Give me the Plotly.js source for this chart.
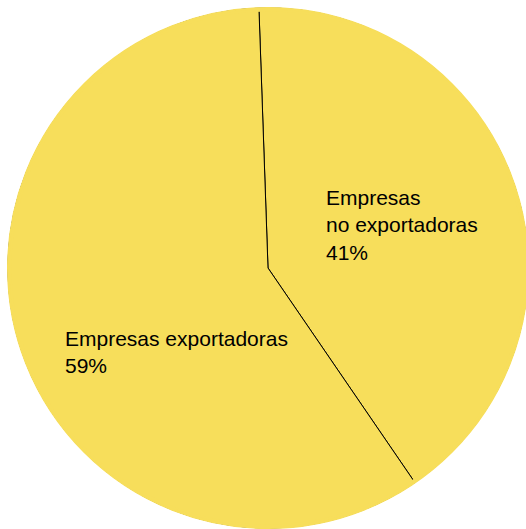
<!DOCTYPE html>
<html>
<head>
<meta charset="utf-8">
<script src="https://cdn.plot.ly/plotly-3.0.1.min.js"></script>
<style>
html,body{margin:0;padding:0;overflow:hidden;background:#fff;}
#chart{width:536px;height:536px;}
</style>
</head>
<body>
<div id="chart"></div>
<script>
// Data
const categories = ["Empresas<br>no exportadoras", "Empresas exportadoras"];
const values = [41, 59];
const pctLabels = ["41%", "59%"];

const W = 536, H = 536;
const fill = "#F7DE5B";
// pie placement (pixels)
const cx = 268, cy = 268, R = 260;
const dom = {x: [(cx - R) / W, (cx + R) / W], y: [(H - cy - R) / H, (H - cy + R) / H]};

const pie = {
  type: "pie",
  values: values,
  labels: categories,
  sort: false,
  direction: "clockwise",
  rotation: -2,
  textinfo: "none",
  hoverinfo: "skip",
  marker: {colors: [fill, fill], line: {color: "#000", width: 1}},
  domain: dom,
  showlegend: false
};
// ring in the same fill colour to hide the outer arc of slice borders
const total = values.reduce((a, b) => a + b, 0);
const ring = {
  type: "pie",
  values: [total],
  labels: ["all"],
  hole: 0.99,
  textinfo: "none",
  hoverinfo: "skip",
  marker: {colors: [fill], line: {color: fill, width: 2}},
  domain: dom,
  showlegend: false
};

const labelPos = [[324, 225], [63, 352]];
const annotations = categories.map((c, i) => ({
  text: c + "<br>" + pctLabels[i],
  xref: "paper", yref: "paper",
  x: labelPos[i][0] / W, y: 1 - labelPos[i][1] / H,
  xanchor: "left", yanchor: "middle", align: "left",
  showarrow: false,
  font: {family: "Liberation Sans, Arial, sans-serif", size: 21, color: "#000"}
}));

Plotly.newPlot("chart", [pie, ring], {
  width: W, height: H,
  margin: {l: 0, r: 0, t: 0, b: 0},
  paper_bgcolor: "#fff",
  annotations: annotations
}, {staticPlot: true});
</script>
</body>
</html>
